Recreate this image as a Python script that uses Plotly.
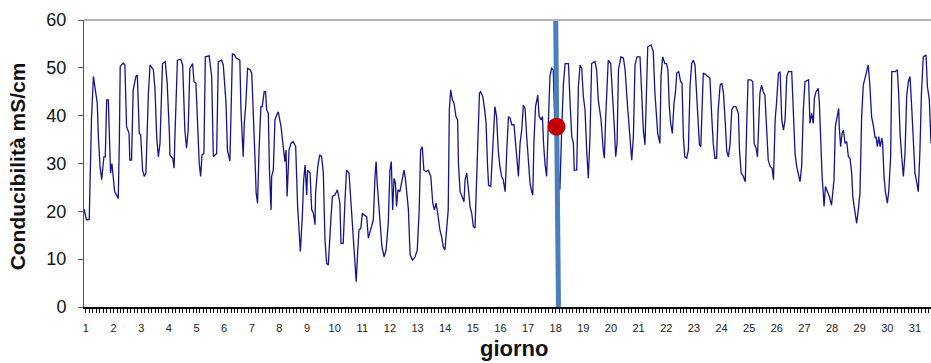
import plotly.graph_objects as go

# ---- data (day of month, conductivity mS/cm) ----
days = [
    0.93, 1.02, 1.12, 1.20, 1.27, 1.36, 1.41, 1.45, 1.51, 1.57, 1.60, 1.65, 1.70, 1.75, 1.81, 1.84, 1.89, 1.94, 1.99,
    2.04, 2.11, 2.17, 2.21, 2.24, 2.35, 2.41, 2.47, 2.56, 2.59, 2.65, 2.71, 2.81, 2.86, 2.93, 2.98,
    3.05, 3.11, 3.17, 3.26, 3.32, 3.44, 3.50, 3.56, 3.62, 3.68, 3.77, 3.87, 3.94,
    4.02, 4.04, 4.14, 4.19, 4.22, 4.31, 4.43, 4.50, 4.58, 4.64, 4.70, 4.76, 4.86, 4.91, 4.98,
    5.03, 5.10, 5.15, 5.20, 5.27, 5.32, 5.46, 5.55, 5.61, 5.73, 5.79, 5.91, 5.97,
    6.07, 6.12, 6.21, 6.30, 6.37, 6.45, 6.57, 6.61, 6.69, 6.73, 6.78, 6.85, 6.94,
    7.00, 7.06, 7.12, 7.16, 7.21, 7.26, 7.33, 7.38, 7.45, 7.50, 7.54, 7.60, 7.64, 7.70, 7.72, 7.78, 7.84, 7.90, 7.96,
    8.06, 8.14, 8.20, 8.24, 8.28, 8.35, 8.42, 8.50, 8.59, 8.66, 8.71, 8.76, 8.83, 8.88, 8.93, 8.99,
    9.02, 9.11, 9.17, 9.23, 9.29, 9.31, 9.39, 9.46, 9.53, 9.59, 9.65, 9.71, 9.77, 9.83, 9.87, 9.92,
    10.01, 10.10, 10.19, 10.23, 10.31, 10.37, 10.43, 10.52, 10.59, 10.68, 10.74, 10.78, 10.83, 10.88, 10.95,
    11.00, 11.07, 11.16, 11.22, 11.34, 11.40, 11.46, 11.50, 11.54, 11.62, 11.66, 11.71, 11.79, 11.86, 11.94,
    12.00, 12.05, 12.10, 12.15, 12.20, 12.24, 12.29, 12.36, 12.44, 12.51, 12.56, 12.61, 12.67, 12.73, 12.82, 12.91, 12.99,
    13.06, 13.11, 13.17, 13.23, 13.31, 13.39, 13.48, 13.55, 13.61, 13.67, 13.73, 13.81, 13.87, 13.93, 13.99,
    14.05, 14.11, 14.15, 14.20, 14.26, 14.32, 14.39, 14.45, 14.48, 14.54, 14.61, 14.68, 14.72, 14.78, 14.85, 14.90, 14.96,
    15.02, 15.08, 15.14, 15.19, 15.24, 15.28, 15.36, 15.43, 15.48, 15.53, 15.57, 15.65, 15.72, 15.80, 15.86, 15.92, 15.98,
    16.04, 16.10, 16.17, 16.23, 16.29, 16.35, 16.41, 16.49, 16.59, 16.65, 16.71, 16.77, 16.83, 16.89, 16.95,
    17.01, 17.07, 17.13, 17.17, 17.21, 17.27, 17.35, 17.40, 17.47, 17.52, 17.56, 17.61, 17.67, 17.73, 17.79, 17.85, 17.91, 17.97,
    18.07, 18.15, 18.22, 18.28, 18.34, 18.46, 18.52, 18.58, 18.64, 18.67, 18.76, 18.82, 18.88, 18.94,
    19.00, 19.06, 19.12, 19.18, 19.24, 19.30, 19.42, 19.48, 19.54, 19.64, 19.72, 19.76, 19.81, 19.90, 19.99,
    20.05, 20.12, 20.17, 20.22, 20.27, 20.36, 20.45, 20.51, 20.60, 20.69, 20.75, 20.81, 20.87, 20.94,
    21.05, 21.11, 21.17, 21.23, 21.27, 21.33, 21.45, 21.53, 21.59, 21.69, 21.77, 21.81, 21.87, 21.95,
    22.01, 22.06, 22.11, 22.16, 22.22, 22.28, 22.33, 22.38, 22.45, 22.52, 22.57, 22.62, 22.67, 22.74, 22.80, 22.86, 22.92, 22.98,
    23.04, 23.10, 23.16, 23.20, 23.25, 23.28, 23.34, 23.44, 23.52, 23.58, 23.64, 23.70, 23.76, 23.82, 23.88, 23.95,
    24.01, 24.07, 24.13, 24.19, 24.25, 24.31, 24.37, 24.43, 24.52, 24.61, 24.65, 24.71, 24.79, 24.86, 24.91, 24.96,
    25.06, 25.13, 25.18, 25.25, 25.30, 25.34, 25.39, 25.45, 25.51, 25.57, 25.63, 25.69, 25.76, 25.83, 25.88, 25.94, 25.99,
    26.06, 26.12, 26.18, 26.24, 26.30, 26.36, 26.42, 26.54, 26.60, 26.66, 26.72, 26.78, 26.84, 26.90, 26.96,
    27.02, 27.11, 27.15, 27.20, 27.26, 27.32, 27.36, 27.42, 27.50, 27.54, 27.59, 27.64, 27.69, 27.71, 27.76, 27.83, 27.90, 27.98,
    28.02, 28.07, 28.12, 28.19, 28.24, 28.26, 28.31, 28.36, 28.41, 28.47, 28.53, 28.59, 28.65, 28.71, 28.75, 28.80, 28.84, 28.89, 28.95,
    29.01, 29.07, 29.13, 29.19, 29.25, 29.31, 29.37, 29.43, 29.50, 29.56, 29.59, 29.64, 29.69, 29.74, 29.80, 29.83, 29.88, 29.93,
    30.00, 30.05, 30.12, 30.16, 30.28, 30.36, 30.41, 30.46, 30.52, 30.58, 30.64, 30.70, 30.76, 30.82, 30.88, 30.94,
    31.00, 31.06, 31.12, 31.18, 31.23, 31.30, 31.40, 31.45, 31.52, 31.58,
]

conductivity = [
    20.5, 18.2, 18.3, 39.1, 48.2, 44.7, 42.6, 35.6, 29.4, 26.6, 28.6, 31.4, 31.4, 43.3, 43.3, 34.9, 28.0, 30.0, 27.3,
    24.1, 23.4, 22.7, 34.9, 50.3, 51.0, 50.6, 37.7, 36.3, 30.7, 30.7, 45.4, 48.2, 48.5, 36.3, 36.0,
    28.6, 27.3, 28.0, 44.7, 50.6, 49.6, 45.4, 35.6, 31.4, 34.2, 50.9, 51.3, 46.8,
    36.3, 31.8, 31.1, 29.0, 35.6, 51.6, 51.8, 50.6, 37.0, 33.2, 37.0, 49.9, 50.9, 47.1, 46.8,
    38.4, 30.0, 27.3, 31.8, 32.1, 52.3, 52.5, 48.2, 31.4, 32.1, 51.3, 51.6, 50.6,
    42.6, 32.8, 30.5, 53.0, 52.7, 52.0, 51.6, 41.2, 31.4, 38.4, 41.9, 49.9, 49.6,
    48.9, 41.2, 30.7, 23.8, 21.7, 32.1, 41.9, 41.9, 45.0, 45.0, 41.2, 40.5, 28.6, 20.3, 27.3, 28.6, 39.1, 40.1, 40.8,
    37.7, 32.8, 30.4, 32.8, 23.1, 32.8, 34.2, 34.6, 33.5, 21.0, 16.8, 11.6, 18.9, 26.6, 29.7, 23.4,
    28.6, 28.0, 20.3, 19.6, 17.2, 23.8, 29.4, 31.8, 31.4, 28.0, 14.0, 9.1, 8.8, 16.8, 18.9, 23.1,
    23.4, 24.5, 21.7, 13.3, 13.3, 21.7, 28.6, 28.0, 21.7, 14.0, 7.0, 5.3, 11.2, 16.1, 16.5,
    19.6, 19.2, 18.9, 14.4, 16.8, 18.2, 27.3, 30.4, 25.9, 20.3, 16.1, 12.6, 10.5, 11.9, 17.5,
    28.6, 30.4, 20.3, 26.9, 25.9, 21.0, 24.5, 24.1, 26.2, 28.6, 26.9, 24.5, 20.3, 10.9, 9.8, 10.5, 11.9,
    20.3, 32.8, 33.5, 28.6, 28.3, 28.6, 27.3, 21.7, 20.3, 21.7, 19.6, 16.1, 14.7, 12.6, 11.9,
    15.8, 20.3, 41.2, 45.4, 43.3, 42.6, 39.8, 39.1, 30.0, 24.1, 23.1, 22.0, 26.6, 28.0, 24.1, 21.0, 19.6,
    16.8, 16.5, 27.3, 35.6, 44.7, 45.0, 44.0, 41.2, 38.4, 30.0, 25.5, 25.2, 34.2, 41.9, 39.8, 32.8, 29.4,
    27.3, 26.6, 24.1, 32.8, 39.8, 39.5, 38.1, 38.1, 30.0, 27.3, 34.2, 37.0, 42.2, 41.5, 35.6,
    31.4, 25.9, 24.1, 23.4, 34.2, 41.9, 44.3, 39.8, 39.1, 39.8, 34.2, 30.0, 27.3, 40.5, 48.2, 49.9, 49.6, 37.7,
    30.7, 24.5, 37.7, 46.8, 50.9, 50.9, 42.6, 35.6, 34.2, 28.6, 28.6, 46.1, 50.6, 49.9,
    44.0, 41.2, 32.8, 26.9, 35.6, 50.9, 51.3, 49.6, 43.3, 39.1, 32.8, 31.1, 39.8, 51.6, 50.9,
    45.4, 37.7, 31.4, 34.2, 49.6, 52.3, 52.0, 49.6, 41.9, 34.9, 30.7, 35.6, 50.6, 52.3,
    52.3, 44.7, 37.0, 33.9, 41.2, 54.4, 54.8, 53.4, 44.7, 36.3, 34.2, 48.2, 52.3, 50.9,
    50.9, 49.6, 41.9, 38.4, 36.3, 42.6, 44.7, 48.9, 49.2, 47.1, 46.8, 35.6, 31.4, 31.1, 32.8, 46.1, 50.9, 51.6,
    50.6, 44.0, 39.8, 33.9, 33.5, 40.5, 48.9, 48.5, 48.2, 47.8, 40.5, 34.2, 31.1, 31.1, 41.2, 46.4,
    46.8, 44.7, 39.1, 32.5, 31.4, 34.2, 41.2, 41.9, 41.9, 40.5, 32.8, 28.0, 27.3, 26.2, 37.7, 47.5,
    47.5, 47.1, 34.2, 33.2, 31.4, 39.1, 44.7, 46.4, 45.0, 44.3, 37.0, 30.7, 29.4, 29.0, 26.6, 39.1, 42.6,
    48.9, 49.2, 39.1, 37.0, 39.1, 48.2, 49.2, 49.2, 41.2, 32.1, 29.4, 28.0, 26.2, 29.4, 41.2,
    47.1, 47.5, 47.5, 38.4, 40.5, 38.4, 43.6, 45.0, 45.7, 42.6, 32.1, 27.3, 23.1, 21.0, 25.2, 24.1, 23.1, 21.3,
    23.8, 26.6, 37.7, 40.5, 41.5, 37.7, 33.5, 36.3, 37.0, 34.2, 34.6, 31.4, 31.1, 28.0, 23.1, 21.0, 19.2, 17.5, 20.3,
    23.8, 39.8, 46.4, 47.8, 49.6, 50.6, 46.1, 39.8, 37.7, 35.3, 35.6, 33.5, 35.6, 33.5, 35.3, 34.2, 27.3, 24.1,
    21.7, 24.1, 31.4, 49.2, 49.2, 49.6, 44.7, 36.3, 31.4, 27.3, 32.1, 44.0, 47.1, 48.2, 41.9, 33.5,
    28.0, 26.2, 24.1, 32.8, 44.0, 52.3, 52.7, 46.1, 43.3, 34.2,
]

tick_days = list(range(1, 32))
tick_labels = [str(d) for d in tick_days]
y_ticks = [0, 10, 20, 30, 40, 50, 60]

marker_line_days = [18.0, 18.1]     # slanted vertical marker line
marker_line_values = [60, 0]
highlight_day = [18.03]
highlight_value = [37.7]

FONT = "Arial, Liberation Sans, sans-serif"

fig = go.Figure()
fig.add_trace(go.Scatter(
    x=days, y=conductivity, mode="lines",
    line=dict(color="#14148c", width=1.3),
    showlegend=False, hoverinfo="skip",
))
fig.add_trace(go.Scatter(
    x=marker_line_days, y=marker_line_values, mode="lines",
    line=dict(color="#4a7ebd", width=5),
    showlegend=False, hoverinfo="skip",
))
fig.add_trace(go.Scatter(
    x=highlight_day, y=highlight_value, mode="markers",
    marker=dict(color="#c00000", size=18, line=dict(width=0)),
    showlegend=False, cliponaxis=False,
))

fig.update_layout(
    width=931, height=363, autosize=False,
    margin=dict(l=84, r=0, t=20, b=56, pad=0),
    paper_bgcolor="white", plot_bgcolor="white",
    font=dict(family=FONT, color="#111"),
    xaxis=dict(
        range=[0.93, 31.58],
        tickmode="array", tickvals=tick_days, ticktext=tick_labels,
        ticks="outside", ticklen=4, tickwidth=1, tickcolor="#000",
        minor=dict(dtick=0.125, tick0=0, ticks="outside", ticklen=4, tickwidth=1, tickcolor="#000"),
        showline=True, linecolor="#000", linewidth=1.5,
        showgrid=False, zeroline=False,
        tickfont=dict(size=11, color="#222", family=FONT),
        ticklabelstandoff=6,
    ),
    yaxis=dict(
        range=[0, 60],
        tickmode="array", tickvals=y_ticks,
        ticks="outside", ticklen=5, tickwidth=1, tickcolor="#555",
        showline=True, linecolor="#555", linewidth=1,
        showgrid=False, zeroline=False,
        tickfont=dict(size=18, color="#111", family=FONT),
        ticklabelstandoff=8,
    ),
    shapes=[dict(type="line", xref="paper", yref="paper", x0=0, x1=1, y0=1, y1=1,
                 line=dict(color="#b4b4b4", width=2))],
    annotations=[
        dict(text="<b>Conducibilità mS/cm</b>", textangle=-90, xref="paper", yref="paper",
             x=-67 / 847, y=0.49, xanchor="center", yanchor="middle", showarrow=False,
             font=dict(size=21, color="#111", family=FONT)),
        dict(text="<b>giorno</b>", xref="paper", yref="paper",
             x=(514 - 84) / 847, y=-41 / 287, xanchor="center", yanchor="middle", showarrow=False,
             font=dict(size=22, color="#111", family=FONT)),
    ],
)

fig.write_html(
    "out.html",
    config={"displayModeBar": False},
    post_script="document.body.style.margin='0';document.body.style.overflow='hidden';",
)
